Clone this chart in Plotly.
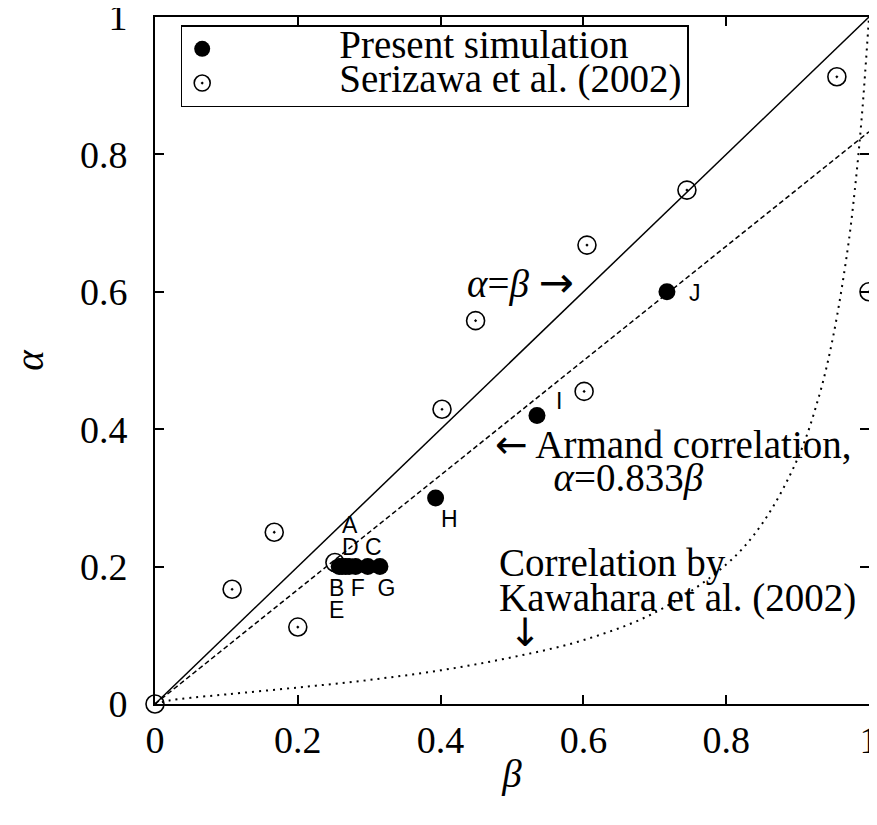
import plotly.graph_objects as go

# --- data ---
sim_labels = ["A", "B", "C", "D", "E", "F", "G", "H", "I", "J"]
sim_beta = [0.267, 0.262, 0.298, 0.272, 0.258, 0.281, 0.315, 0.393, 0.535, 0.717]
sim_alpha = [0.2, 0.2, 0.2, 0.2, 0.2, 0.2, 0.2, 0.30, 0.42, 0.60]

ser_beta = [0.0, 0.108, 0.167, 0.200, 0.252, 0.402, 0.449, 0.601, 0.605, 0.745, 0.955, 1.0]
ser_alpha = [0.0, 0.167, 0.250, 0.112, 0.206, 0.429, 0.558, 0.455, 0.668, 0.748, 0.913, 0.600]

line_beta = [0.0, 1.0]
homog_alpha = [0.0, 1.0]
armand_alpha = [0.0, 0.833]

kaw_beta = [0, 0.02, 0.05, 0.1, 0.2, 0.3, 0.4, 0.5, 0.6, 0.7, 0.8, 0.85, 0.9, 0.93, 0.95, 0.97, 0.98, 0.99, 1.0]
kaw_alpha = [0, 0.005, 0.009, 0.014, 0.024, 0.035, 0.049, 0.068, 0.093, 0.133, 0.203, 0.262, 0.357, 0.448, 0.536, 0.661, 0.747, 0.856, 1.0]

tick_vals = [0, 0.2, 0.4, 0.6, 0.8, 1]
tick_text = ["0", "0.2", "0.4", "0.6", "0.8", "1"]

SERIF = "Liberation Serif"
SANS = "Liberation Sans"
ARROWF = "DejaVu Sans"
TXT = 39
NBSP = "\u00a0"


def arrow(ch, px=None):
    if px:
        return '<span style="font-family:%s;font-size:%dpx">%s</span>' % (ARROWF, px, ch)
    return '<span style="font-family:%s">%s</span>' % (ARROWF, ch)


def sized(s, px):
    return '<span style="font-size:%dpx">%s</span>' % (px, s)


fig = go.Figure()

fig.add_trace(go.Scatter(x=line_beta, y=homog_alpha, mode="lines",
                         line=dict(color="black", width=1.5), showlegend=False,
                         hoverinfo="skip"))
fig.add_trace(go.Scatter(x=line_beta, y=armand_alpha, mode="lines",
                         line=dict(color="black", width=1.5, dash="5px,3px"),
                         showlegend=False, hoverinfo="skip"))
fig.add_trace(go.Scatter(x=kaw_beta, y=kaw_alpha, mode="lines",
                         line=dict(color="black", width=2, dash="2px,5px", shape="spline"),
                         showlegend=False, hoverinfo="skip"))

fig.add_trace(go.Scatter(x=ser_beta, y=ser_alpha, mode="markers",
                         name=sized(NBSP * 12 + "Serizawa et al. (2002)", TXT),
                         marker=dict(symbol="circle-open-dot", size=18, color="black",
                                     line=dict(color="black", width=1.6)),
                         cliponaxis=False))
fig.add_trace(go.Scatter(x=sim_beta, y=sim_alpha, mode="markers",
                         name=sized(NBSP * 12 + "Present simulation", TXT),
                         marker=dict(symbol="circle", size=17, color="black"),
                         cliponaxis=False))

# point labels: cluster A-G as two grouped labels, H, I, J individually
lab_font = dict(family=SANS, size=17, color="black")
LAB = 23
ia, ib = sim_labels.index("A"), sim_labels.index("B")
fig.add_annotation(x=sim_beta[ia], y=sim_alpha[ia], xanchor="left", yanchor="bottom", align="left",
                   text=sized(sim_labels[ia], LAB) + "<br>" +
                   sized(sim_labels[3] + NBSP + sim_labels[2], LAB),
                   showarrow=False, xshift=-6, yshift=5, font=lab_font)
fig.add_annotation(x=sim_beta[ib], y=sim_alpha[ib], xanchor="left", yanchor="top", align="left",
                   text=sized(sim_labels[ib] + NBSP + sim_labels[5] + NBSP * 2 + sim_labels[6], LAB) +
                   "<br>" + sized(sim_labels[4], LAB),
                   showarrow=False, xshift=-15, yshift=-6, font=lab_font)
for lab, dx, dy in [("H", 14, 21), ("I", 22, -14), ("J", 28, 1)]:
    i = sim_labels.index(lab)
    fig.add_annotation(x=sim_beta[i], y=sim_alpha[i], text=lab, showarrow=False,
                       xshift=dx, yshift=-dy,
                       font=dict(family=SANS, size=LAB, color="black"))

bigf = dict(family=SERIF, size=TXT, color="black")
fig.add_annotation(x=0.4345, y=0.613, xanchor="left",
                   text="<i>α</i>=<i>β</i> " + arrow("→", 42), showarrow=False, font=bigf)
fig.add_annotation(x=0.473, y=0.353, xanchor="left", align="left",
                   text=sized(arrow("←") + " Armand correlation,", TXT) + "<br>" +
                   sized(NBSP * 6 + "<i>α</i>=0.833<i>β</i>", TXT),
                   showarrow=False, font=dict(family=SERIF, size=25, color="black"))
fig.add_annotation(x=0.479, y=0.155, xanchor="left", align="left",
                   text=sized("Correlation by", TXT) + "<br>" +
                   sized("Kawahara et al. (2002)", TXT) + "<br>" +
                   sized(NBSP + arrow("↓"), TXT),
                   showarrow=False, font=dict(family=SERIF, size=27, color="black"))

axis_common = dict(range=[0, 1], showgrid=False, zeroline=False,
                   showline=True, linecolor="black", linewidth=2,
                   mirror="ticks", ticks="inside", ticklen=9, tickwidth=2,
                   tickcolor="black", tickvals=tick_vals, ticktext=tick_text,
                   tickfont=dict(family=SERIF, size=38, color="black"),
                   automargin=False, ticklabeloverflow="allow")

fig.update_layout(
    width=869, height=817,
    margin=dict(l=147, r=8, t=9, b=121),
    paper_bgcolor="white", plot_bgcolor="white",
    xaxis=dict(**axis_common,
               title=dict(text="<i>β</i>", font=dict(family=SERIF, size=39, color="black"), standoff=0),
               ticklabelstandoff=1),
    yaxis=dict(**axis_common,
               title=dict(text="<i>α</i>", font=dict(family=SERIF, size=39, color="black"), standoff=40),
               ticklabelstandoff=18),
    legend=dict(x=0.036, y=0.988, xanchor="left", yanchor="top",
                bordercolor="black", borderwidth=1.5, bgcolor="white",
                font=dict(family=SERIF, size=24, color="black"),
                traceorder="reversed", itemwidth=30, tracegroupgap=0),
    showlegend=True,
)

fig.write_html("out.html")
